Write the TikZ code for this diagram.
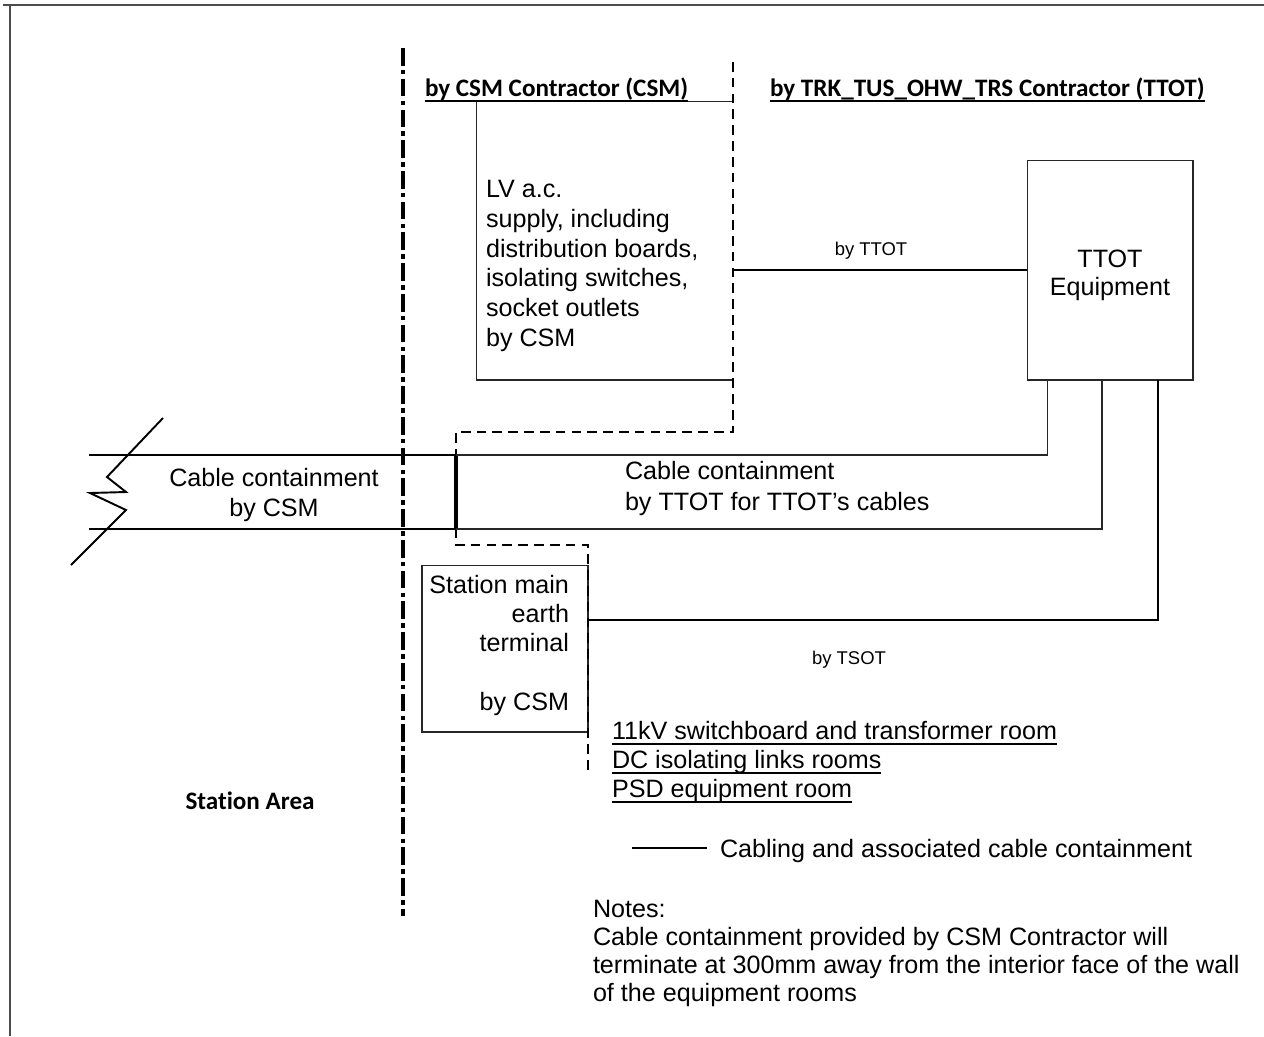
\documentclass[tikz,border=0pt]{standalone}
\usepackage{fontspec}
\setmainfont{Liberation Sans}
\newfontfamily\calibri{Carlito}[Ligatures=NoCommon]
\usetikzlibrary{calc}

% underline sitting just under the baseline
\newcommand{\undl}[1]{\setbox0=\hbox{#1}\rlap{\rule[-3.3pt]{\wd0}{1pt}}\box0}

\begin{document}
\begin{tikzpicture}[
    x=0.02cm, y=-0.02cm,
    every node/.style={inner sep=0pt, outer sep=0pt},
    txt/.style={font=\fontsize{14.3}{17}\selectfont},
    small/.style={font=\fontsize{10.5}{12.5}\selectfont},
    head/.style={font=\calibri\bfseries\fontsize{14.3}{17}\selectfont},
    box/.style={draw=black!85, line width=0.6pt, minimum width=3.32cm},
    thinline/.style={draw=black!85, line width=0.6pt},
    cable/.style={draw, line width=1.1pt},
    csmline/.style={draw, line width=1.3pt, dash pattern=on 5.5pt off 3.5pt},
    wallline/.style={draw, line width=2.4pt, dash pattern=on 10pt off 2.5pt on 2.5pt off 2.5pt}
]
    \useasboundingbox (0,0) rectangle (1264,1036);

    % sheet frame
    \draw[black!70, line width=0.8pt] (3,5) -- (1264,5);
    \draw[black!70, line width=0.8pt] (10,5) -- (10,1036);

    % station wall
    \coordinate (wallT) at (403,48);
    \coordinate (wallB) at (403,916);
    \path [wallline] (wallT) -- (wallB);

    % equipment
    \node [box, draw=none, minimum width=5.14cm, minimum height=5.58cm] (lvbox) at (604.5,240.5) {};
    \node [box, minimum height=4.4cm] (ttot) at (1110,270) {};
    \node [box, minimum height=3.34cm] (semt) at (505,648.5) {};

    \path [thinline] (lvbox.north east) -- (lvbox.north west) -- (lvbox.south west) -- (lvbox.south east);

    % CSM scope boundary
    \coordinate (csmT) at (733,62);
    \path [csmline] (csmT) -- (733,432) -- (456,432) -- (456,545) -- (588,545) -- (588,775);

    % cable containment by CSM
    \coordinate (csmTop) at (89,455);
    \coordinate (csmBot) at (89,529);
    \coordinate (endTop) at (456,455);
    \coordinate (endBot) at (456,529);
    \path [cable] (csmTop) -- (endTop);
    \path [cable] (csmBot) -- (endBot);
    \path [cable, line width=1.8pt] (endTop) -- (endBot);
    \path [cable] (163,418) -- (107,477) -- (126,492) -- (90,493) -- (126,510) -- (71,565);

    % TTOT cabling
    \path [cable] (lvbox.east |- ttot.west) -- (ttot.west);
    \path [thinline] ($(ttot.south west)+(20,0)$) |- (endTop);
    \path [thinline] ($(ttot.south)+(-8,0)$) |- (endBot);
    \path [cable] ($(ttot.south east)+(-35,0)$) |- ($(semt.north east)+(0,55)$);

    % labels
    \node [head, anchor=base west] (hdcsm) at (425,96) {\undl{by CSM Contractor (CSM)}};
    \node [head, anchor=base west] (hdttot) at (770,96) {\undl{by TRK\_TUS\_OHW\_TRS Contractor (TTOT)}};
    \node [txt, anchor=north west, align=left] (lvtxt) at ($(lvbox.north west)+(10,79)$) {LV a.c.\\supply, including\\distribution boards,\\isolating switches,\\socket outlets\\by CSM};
    \node [txt, align=center, font=\fontsize{14.3}{16}\selectfont] (ttottext) at ($(ttot.center)+(0,5)$) {TTOT\\Equipment};
    \node [small, anchor=base] (lbtt) at (871,255) {by TTOT};
    \node [small, anchor=base] (lbts) at (849,664) {by TSOT};
    \node [txt, align=center] (csmtxt) at (274,495) {Cable containment\\by CSM};
    \node [txt, anchor=north west, align=left, font=\fontsize{14.3}{18}\selectfont] (ttottxt) at (625,461) {Cable containment\\by TTOT for TTOT's cables};
    \node [txt, anchor=north east, align=right, font=\fontsize{14.3}{16.7}\selectfont] (semttxt) at ($(semt.north east)+(-19,10)$) {Station main\\earth\\terminal\\[16.7pt]by CSM};

    \node [txt, anchor=base west] (room1) at (612,739) {\undl{11kV switchboard and transformer room}};
    \node [txt, anchor=base west] (room2) at ($(room1.base west)+(0,29)$) {\undl{DC isolating links rooms}};
    \node [txt, anchor=base west] (room3) at ($(room2.base west)+(0,29)$) {\undl{PSD equipment room}};

    \node [head] (area) at (250,801) {Station Area};

    % key
    \coordinate (keyA) at (632,848);
    \coordinate (keyB) at (707,848);
    \path [cable] (keyA) -- (keyB);
    \node [txt, anchor=base west] (keytxt) at (720,857) {Cabling and associated cable containment};

    \node [txt, anchor=north west, align=left, font=\fontsize{14.3}{15.9}\selectfont] (notes) at (593,900) {Notes:\\Cable containment provided by CSM Contractor will\\terminate at 300mm away from the interior face of the wall\\of the equipment rooms};
\end{tikzpicture}
\end{document}
